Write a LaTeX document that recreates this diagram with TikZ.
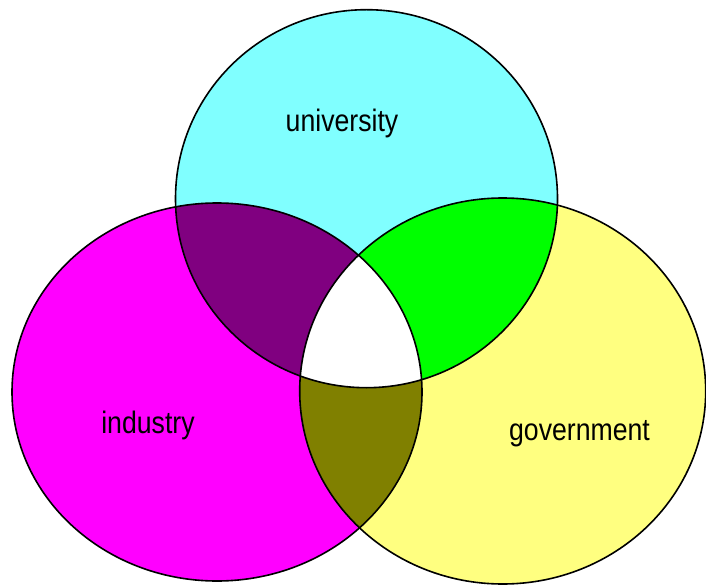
\documentclass[tikz,border=0pt]{standalone}
\usepackage{fontspec}
\setmainfont{Liberation Sans}
\usepackage{xcolor}
\usetikzlibrary{positioning}
\definecolor{unicol}{HTML}{80FFFF}
\definecolor{indcol}{HTML}{FF00FF}
\definecolor{govcol}{HTML}{FFFF80}
\definecolor{uniind}{HTML}{800080}
\definecolor{unigov}{HTML}{00FF00}
\definecolor{indgov}{HTML}{808000}
\newcommand*{\UniShape}{(366.5,198.7) ellipse [x radius=191, y radius=189]}
\newcommand*{\IndShape}{(217,392) ellipse [x radius=205, y radius=189]}
\newcommand*{\GovShape}{(502.7,391) ellipse [x radius=203, y radius=193]}

\begin{document}
\begin{tikzpicture}[x=1pt, y=-1pt,
    setlabel/.style={font=\fontsize{31}{36}\selectfont, xscale=0.86, anchor=base, inner sep=0pt}
    ]
\useasboundingbox (0,0) rectangle (706,585);

% Single sets
\fill[unicol] \UniShape;
\fill[indcol] \IndShape;
\fill[govcol] \GovShape;

% Pairwise overlaps
\begin{scope}
    \clip \UniShape;
    \fill[uniind] \IndShape;
    \fill[unigov] \GovShape;
\end{scope}
\begin{scope}
    \clip \IndShape;
    \fill[indgov] \GovShape;
\end{scope}

% All three
\begin{scope}
    \clip \UniShape;
    \clip \IndShape;
    \fill[white] \GovShape;
\end{scope}

% Outlines
\draw[line width=1.6pt] \UniShape;
\draw[line width=1.6pt] \IndShape;
\draw[line width=1.6pt] \GovShape;

% Labels
\node[setlabel] (university) at (342,132) {university};
\node[setlabel] (industry) at (148,433) {industry};
\node[setlabel] (government) at (579.5,440.7) {government};

\end{tikzpicture}
\end{document}
